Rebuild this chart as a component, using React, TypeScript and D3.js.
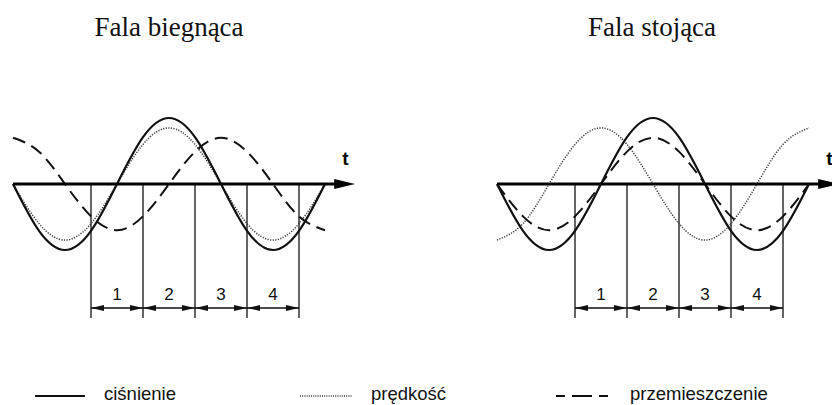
import React from "react";
import * as d3 from "d3";

// Phase positions (in periods) sampled every 1/8 period
const phases = [0, 0.125, 0.25, 0.375, 0.5, 0.625, 0.75, 0.875, 1, 1.125, 1.25, 1.375, 1.5];

// Travelling wave (Fala biegnąca)
const travPressure = [0, -0.71, -1, -0.71, 0, 0.71, 1, 0.71, 0, -0.71, -1, -0.71, 0];
const travVelocity = [0, -0.6, -0.85, -0.6, 0, 0.6, 0.85, 0.6, 0, -0.6, -0.85, -0.6, 0];
const travDisplacement = [0.7, 0.49, 0, -0.49, -0.7, -0.49, 0, 0.49, 0.7, 0.49, 0, -0.49, -0.7];

// Standing wave (Fala stojąca)
const standPressure = [0, -0.71, -1, -0.71, 0, 0.71, 1, 0.71, 0, -0.71, -1, -0.71, 0];
const standVelocity = [-0.85, -0.6, 0, 0.6, 0.85, 0.6, 0, -0.6, -0.85, -0.6, 0, 0.6, 0.85];
const standDisplacement = [0, -0.49, -0.7, -0.49, 0, 0.49, 0.7, 0.49, 0, -0.49, -0.7, -0.49, 0];

// Interval boundaries (in periods) and their labels
const boundaries = [0.375, 0.625, 0.875, 1.125, 1.375];
const intervalLabels = ["1", "2", "3", "4"];

const titles = ["Fala biegnąca", "Fala stojąca"];
const legendLabels = ["ciśnienie", "prędkość", "przemieszczenie"];

const W = 832;
const H = 405;
const AXIS_Y = 184;
const AMP = 66;
const PERIOD_PX = 208;
const AXIS_END = 1.645; // arrow tip, in periods

const solidStyle = { stroke: "#111", strokeWidth: 2.2, fill: "none" };
const dottedStyle = { stroke: "#3a3a3a", strokeWidth: 1.5, fill: "none", strokeDasharray: "1.2 1.4" };
const dashedStyle = { stroke: "#111", strokeWidth: 2, fill: "none", strokeDasharray: "13 7" };

const sans = "'Liberation Sans', Arial, sans-serif";
const serif = "'Liberation Serif', 'Times New Roman', serif";

type PanelProps = {
  x0: number;
  title: string;
  titleX: number;
  pressure: number[];
  velocity: number[];
  displacement: number[];
};

function Panel({ x0, title, titleX, pressure, velocity, displacement }: PanelProps) {
  const x = d3.scaleLinear().domain([0, 1]).range([x0, x0 + PERIOD_PX]);
  const y = d3.scaleLinear().domain([-1, 1]).range([AXIS_Y + AMP, AXIS_Y - AMP]);

  const line = (vals: number[]) =>
    d3
      .line<number>()
      .x((_, i) => x(phases[i]))
      .y((v) => y(v))
      .curve(d3.curveNatural)(vals) || "";

  const tip = x(AXIS_END);
  const dimY = 308;
  const ah = 13; // dimension arrowhead length
  const aw = 3;

  return (
    <g>
      <text x={titleX} y={36} textAnchor="middle" fontFamily={serif} fontSize={27} fill="#111">
        {title}
      </text>

      {/* vertical boundary lines */}
      {boundaries.map((b, i) => (
        <line key={"v" + i} x1={x(b)} x2={x(b)} y1={AXIS_Y} y2={318} stroke="#111" strokeWidth={1.3} />
      ))}

      {/* dimension line with arrows */}
      <line x1={x(boundaries[0])} x2={x(boundaries[boundaries.length - 1])} y1={dimY} y2={dimY} stroke="#111" strokeWidth={1.3} />
      {intervalLabels.map((lab, i) => {
        const a = x(boundaries[i]);
        const b = x(boundaries[i + 1]);
        return (
          <g key={"d" + i}>
            <path d={`M${a},${dimY} L${a + ah},${dimY - aw} L${a + ah},${dimY + aw} Z`} fill="#111" />
            <path d={`M${b},${dimY} L${b - ah},${dimY - aw} L${b - ah},${dimY + aw} Z`} fill="#111" />
            <text x={(a + b) / 2} y={300} textAnchor="middle" fontFamily={sans} fontSize={17} fill="#111">
              {lab}
            </text>
          </g>
        );
      })}

      {/* curves */}
      <path d={line(velocity)} style={dottedStyle} />
      <path d={line(displacement)} style={dashedStyle} />
      <path d={line(pressure)} style={solidStyle} />

      {/* time axis */}
      <line x1={x(0)} x2={tip - 18} y1={AXIS_Y} y2={AXIS_Y} stroke="#000" strokeWidth={3} />
      <path d={`M${tip},${AXIS_Y} L${tip - 21},${AXIS_Y - 5} L${tip - 21},${AXIS_Y + 5} Z`} fill="#000" />
      <text x={tip - 13} y={165} fontFamily={sans} fontWeight="bold" fontSize={19} fill="#000">
        t
      </text>
    </g>
  );
}

export default function App() {
  return (
    <svg
      width={W}
      height={H}
      viewBox={`0 0 ${W} ${H}`}
      style={{ position: "absolute", left: 0, top: 0, background: "#fff" }}
    >
      <rect width={W} height={H} fill="#fff" />
      <Panel
        x0={13}
        title={titles[0]}
        titleX={169}
        pressure={travPressure}
        velocity={travVelocity}
        displacement={travDisplacement}
      />
      <Panel
        x0={497}
        title={titles[1]}
        titleX={652}
        pressure={standPressure}
        velocity={standVelocity}
        displacement={standDisplacement}
      />

      {/* legend */}
      <line x1={35} x2={85} y1={396} y2={396} stroke="#111" strokeWidth={2} />
      <text x={104} y={400} fontFamily={sans} fontSize={18.5} fill="#111">
        {legendLabels[0]}
      </text>
      <line x1={300} x2={352} y1={396} y2={396} stroke="#3a3a3a" strokeWidth={1.3} strokeDasharray="1 1.2" />
      <text x={371} y={400} fontFamily={sans} fontSize={18.5} fill="#111">
        {legendLabels[1]}
      </text>
      <line x1={556} x2={608} y1={396} y2={396} stroke="#111" strokeWidth={2} strokeDasharray="9 7 20 7 9" />
      <text x={630} y={400} fontFamily={sans} fontSize={18.5} fill="#111">
        {legendLabels[2]}
      </text>
    </svg>
  );
}
